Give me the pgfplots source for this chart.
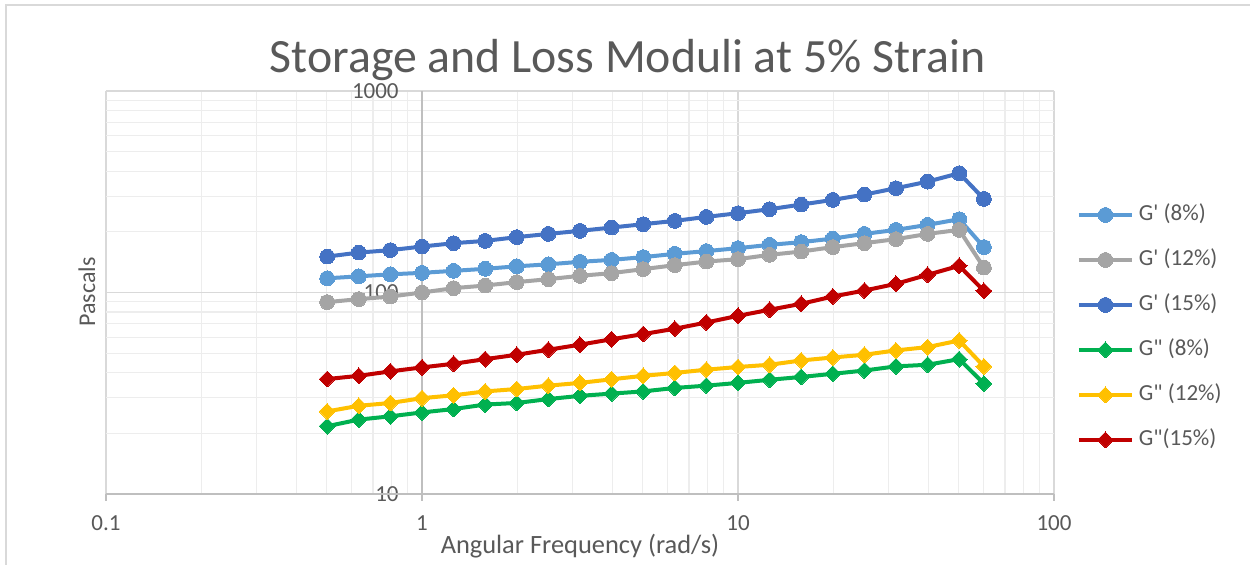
\documentclass[border=0pt]{standalone}
\usepackage{pgfplots}
\pgfplotsset{compat=1.18}
\usepackage{pgfplotstable}
\usepackage{fontspec}
\setmainfont{Carlito}[Ligatures=TeXOff]

\definecolor{cA}{HTML}{5B9BD5}
\definecolor{cB}{HTML}{A5A5A5}
\definecolor{cC}{HTML}{4472C4}
\definecolor{cD}{HTML}{00B050}
\definecolor{cE}{HTML}{FFC000}
\definecolor{cF}{HTML}{C00000}
\definecolor{textgray}{HTML}{595959}
\definecolor{majorgray}{HTML}{D9D9D9}
\definecolor{minorgray}{HTML}{EDEDED}
\definecolor{axisgray}{HTML}{BFBFBF}
\definecolor{bordergray}{HTML}{D9D9D9}

\pgfplotstableread{
x      gp8    gp12   gp15   gpp8  gpp12  gpp15
0.501  117.6  89.6   150.8  21.7  25.7   37.2
0.631  120.3  92.7   157.8  23.4  27.4   38.6
0.794  123.1  95.5   162.3  24.3  28.3   40.6
1.000  125.2  100.0  169.1  25.4  29.9   42.5
1.259  128.1  105.1  175.7  26.4  30.9   44.3
1.585  131.1  108.3  180.4  27.8  32.3   46.7
1.995  134.9  112.6  188.3  28.3  33.2   49.1
2.512  138.0  116.5  195.4  29.6  34.5   52.0
3.162  142.0  121.0  202.3  30.7  35.6   55.1
3.981  145.2  124.8  210.1  31.5  37.1   58.6
5.012  149.8  130.6  218.3  32.3  38.6   62.2
6.310  155.6  136.7  226.7  33.6  39.9   66.1
7.943  160.5  142.4  237.3  34.5  41.4   71.0
10.00  166.0  146.4  247.5  35.6  42.7   76.6
12.59  172.4  153.8  259.1  36.9  43.8   82.1
15.85  177.8  159.7  273.2  38.1  46.0   87.9
19.95  185.2  168.0  288.2  39.5  47.6   95.5
25.12  195.4  175.8  306.2  41.0  49.1   102.3
31.62  204.6  184.0  329.3  43.0  51.6   110.4
39.81  216.6  195.4  355.0  43.8  53.6   122.4
50.12  231.1  204.6  390.8  46.7  57.8   135.7
60.00  168.0  133.0  291.5  35.3  43.0   101.9
}\data

\begin{document}
\begin{tikzpicture}
\useasboundingbox (0,0) rectangle (625pt,-282pt);
\fill[white] (0,0) rectangle (625pt,-282pt);
\draw[bordergray, line width=0.7pt] (3pt,-2.5pt) rectangle (700pt,-320pt);
\begin{axis}[
  at={(53pt,-247pt)}, anchor=south west,
  width=474pt, height=201.5pt, scale only axis,
  xmode=log, ymode=log,
  xmin=0.1, xmax=100, ymin=10, ymax=1000,
  clip=false,
  xtick={0.1,1,10,100}, xticklabels={0.1,1,10,100},
  ytick={10,100,1000}, yticklabels={10,100,1000},
  minor xtick={0.2,0.3,0.4,0.5,0.6,0.7,0.8,0.9,2,3,4,5,6,7,8,9,20,30,40,50,60,70,80,90},
  minor ytick={20,30,40,50,60,70,80,90,200,300,400,500,600,700,800,900},
  grid=both,
  major grid style={draw=majorgray, line width=0.6pt},
  minor grid style={draw=minorgray, line width=0.6pt},
  axis line style={draw=none},
  xtick pos=left, tick align=outside,
  major tick length=3.5pt, minor tick length=0pt,
  xtick style={draw=axisgray, line width=0.6pt},
  ytick style={draw=none},
  /pgf/number format/assume math mode=true,
  tick label style={font=\fontsize{11.5}{13}\selectfont, text=textgray},
  xticklabel style={anchor=center, inner sep=0pt, yshift=-11pt},
  yticklabel style={anchor=east, inner sep=0pt, xshift=150pt},
  every axis plot/.append style={line width=2pt},
  legend style={at={(1.0242,0.7186)}, anchor=north west, draw=none, fill=none,
    inner sep=0pt, outer sep=0pt, row sep=12pt,
    nodes={text height=8pt, text depth=2.5pt, inner sep=0pt, text=textgray,
      font=\fontsize{11.5}{13}\selectfont},
    /tikz/every odd column/.style={column sep=2.5pt}},
  legend cell align=left,
  legend image code/.code={\draw[mark repeat=2, mark phase=2, #1]
    plot coordinates {(0pt,0pt) (13.25pt,0pt) (26.5pt,0pt)};},
]
\draw[axisgray, line width=0.7pt] (axis cs:1,10) -- (axis cs:1,1000);
\draw[axisgray, line width=0.7pt] (axis cs:0.1,10) -- (axis cs:100,10);
\addplot[cA, mark=*, mark size=3.7pt, mark options={fill=cA, draw=cA, line width=0pt}] table[x=x, y=gp8] {\data};
\addlegendentry{G' (8\%)}
\addplot[cB, mark=*, mark size=3.7pt, mark options={fill=cB, draw=cB, line width=0pt}] table[x=x, y=gp12] {\data};
\addlegendentry{G' (12\%)}
\addplot[cC, mark=*, mark size=3.7pt, mark options={fill=cC, draw=cC, line width=0pt}] table[x=x, y=gp15] {\data};
\addlegendentry{G' (15\%)}
\addplot[cD, mark=square*, mark size=2.8pt, mark options={rotate=45, fill=cD, draw=cD, line width=0pt}] table[x=x, y=gpp8] {\data};
\addlegendentry{G" (8\%)}
\addplot[cE, mark=square*, mark size=2.8pt, mark options={rotate=45, fill=cE, draw=cE, line width=0pt}] table[x=x, y=gpp12] {\data};
\addlegendentry{G" (12\%)}
\addplot[cF, mark=square*, mark size=2.8pt, mark options={rotate=45, fill=cF, draw=cF, line width=0pt}] table[x=x, y=gpp15] {\data};
\addlegendentry{G"(15\%)}
\end{axis}
\node[font=\fontsize{23.9}{28}\selectfont, text=textgray, anchor=base] at (313.75pt,-36pt) {Storage and Loss Moduli at 5\% Strain};
\node[font=\fontsize{12}{14}\selectfont, text=textgray, anchor=base, rotate=90] at (47.5pt,-146pt) {Pascals};
\node[font=\fontsize{13.2}{15}\selectfont, text=textgray, anchor=base] at (290pt,-276.5pt) {Angular Frequency (rad/s)};
\end{tikzpicture}
\end{document}
